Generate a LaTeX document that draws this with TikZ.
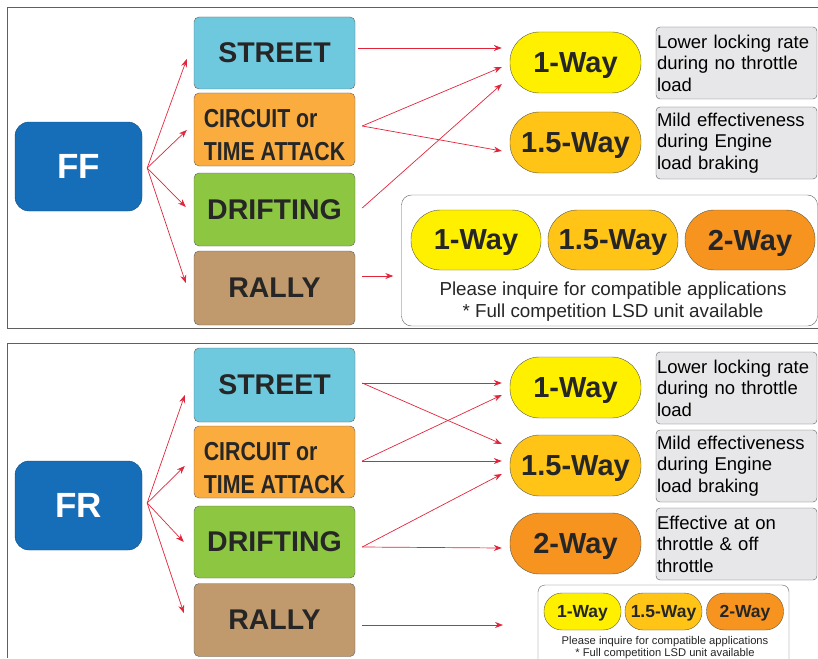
\documentclass[tikz,border=0pt]{standalone}
\usepackage{fontspec}
\setmainfont{Liberation Sans}
\usepackage{graphicx}
\usetikzlibrary{arrows.meta,positioning,calc}
\definecolor{ffblue}{RGB}{22,110,184}
\definecolor{streetc}{RGB}{110,201,222}
\definecolor{circuitc}{RGB}{250,172,62}
\definecolor{driftc}{RGB}{141,198,65}
\definecolor{rallyc}{RGB}{192,153,108}
\definecolor{onec}{RGB}{255,240,0}
\definecolor{onefivec}{RGB}{255,196,22}
\definecolor{twoc}{RGB}{247,148,32}
\definecolor{descc}{RGB}{231,231,233}
\definecolor{arrred}{RGB}{226,36,58}
\definecolor{edgec}{RGB}{95,95,95}

\tikzset{
  drive/.style={fill=ffblue, draw=ffblue!70!black, rounded corners=14pt,
    minimum width=127pt, minimum height=89pt, text=white, text depth=0pt,
    font=\fontsize{35}{35}\selectfont\bfseries},
  catbox/.style={draw=edgec, rounded corners=5pt, minimum width=161pt,
    inner sep=0pt, text depth=0pt, font=\fontsize{28.5}{28.5}\selectfont\bfseries, text=black!85},
  waypill/.style={draw=black!55!yellow!60!black, rounded corners=29.5pt,
    minimum width=131pt, minimum height=61pt, inner sep=0pt, text depth=0pt,
    font=\fontsize{29}{29}\selectfont\bfseries, text=black!85},
  smallpill/.style={draw=black!55!yellow!60!black, rounded corners=18pt,
    minimum width=77pt, minimum height=37pt, inner sep=0pt, text depth=0pt,
    font=\fontsize{17.5}{17.5}\selectfont\bfseries, text=black!85},
  descbox/.style={draw=edgec, fill=descc, rounded corners=4pt,
    minimum width=161pt, minimum height=72pt, text width=159pt, inner sep=1pt,
    align=left, font=\fontsize{18.5}{21.5}\selectfont},
  rarr/.style={arrred, line width=0.7pt, -{Stealth[length=8pt,width=6pt]}},
}

\begin{document}
\begin{tikzpicture}[x=1pt,y=-1pt]
  \useasboundingbox (0,0) rectangle (818,658);
  % panel frames
  \draw[edgec, line width=0.8pt] (818,7) -- (7,7) -- (7,328) -- (818,328);
  \draw[edgec, line width=0.8pt] (818,343) -- (7,343) -- (7,658);

  % ---- FF ----
  \node[drive] (ff) at (78.5,166.5) {FF};
  \node[catbox, fill=streetc, minimum height=72pt] (streetA) at (274.5,53) {STREET};
  \node[catbox, fill=circuitc, minimum height=73pt, align=left] (circA) at (274.5,129.5)
    {\raisebox{10pt}{\scalebox{0.82}[1]{\fontsize{26}{33}\selectfont\bfseries\begin{tabular}{@{}l@{}}CIRCUIT or\\TIME ATTACK\end{tabular}}}};
  \node[catbox, fill=driftc, minimum height=73pt] (driftA) at (274.5,209.5) {DRIFTING};
  \node[catbox, fill=rallyc, minimum height=74pt] (rallyA) at (274.5,288) {RALLY};

  \node[waypill, fill=onec] (oneA) at (575.5,62.5) {1-Way};
  \node[waypill, fill=onefivec] (onefiveA) at (575.5,142.5) {1.5-Way};
  \node[descbox] (lowA) at (736.5,63) {Lower locking rate\\during no throttle\\load};
  \node[descbox] (mildA) at (736.5,143) {Mild effectiveness\\during Engine\\load braking};

  \node[draw=edgec, fill=white, rounded corners=10pt, minimum width=416pt,
    minimum height=131pt] (allA) at (609.5,260.5) {};
  \node[waypill, fill=onec, minimum width=130pt, minimum height=60pt] (allAone) at (476,240) {1-Way};
  \node[waypill, fill=onefivec, minimum width=130pt, minimum height=60pt] (allAonefive) at (613,240) {1.5-Way};
  \node[waypill, fill=twoc, minimum width=130pt, minimum height=60pt] (allAtwo) at (750,240) {2-Way};
  \node[font=\fontsize{18.8}{22}\selectfont, align=center, text=black!85] (noteA) at (613,302)
    {Please inquire for compatible applications\\* Full competition LSD unit available};

  \draw[rarr] ([xshift=5,yshift=-1.5]ff.east) -- ([xshift=-7,yshift=-6]streetA.west);
  \draw[rarr] ([xshift=5,yshift=-1.5]ff.east) -- ([xshift=-7,yshift=-0.5]circA.west);
  \draw[rarr] ([xshift=5,yshift=-1.5]ff.east) -- ([xshift=-8,yshift=2.5]driftA.west);
  \draw[rarr] ([xshift=5,yshift=-1.5]ff.east) -- ([xshift=-8,yshift=5]rallyA.west);

  \draw[rarr] ([xshift=3,yshift=5]streetA.east) -- ([xshift=-8,yshift=14.5]oneA.west);
  \draw[rarr] ([xshift=7,yshift=3.5]circA.east) -- ([xshift=-8,yshift=-4.5]oneA.west);
  \draw[rarr] ([xshift=7,yshift=3.5]circA.east) -- ([xshift=-8,yshift=-8.5]onefiveA.west);
  \draw[rarr] ([xshift=7,yshift=1.5]driftA.east) -- ([xshift=-8,yshift=-21.5]oneA.west);
  \draw[rarr] ([xshift=7,yshift=12]rallyA.east) -- ([xshift=-8,yshift=-15.5]allA.west);

  % ---- FR ----
  \node[drive] (fr) at (78.5,505.5) {FR};
  \node[catbox, fill=streetc, minimum height=74pt] (streetB) at (274.5,385) {STREET};
  \node[catbox, fill=circuitc, minimum height=72pt, align=left] (circB) at (274.5,462)
    {\raisebox{10pt}{\scalebox{0.82}[1]{\fontsize{26}{33}\selectfont\bfseries\begin{tabular}{@{}l@{}}CIRCUIT or\\TIME ATTACK\end{tabular}}}};
  \node[catbox, fill=driftc, minimum height=72pt] (driftB) at (274.5,542) {DRIFTING};
  \node[catbox, fill=rallyc, minimum height=73pt] (rallyB) at (274.5,620) {RALLY};

  \node[waypill, fill=onec] (oneB) at (575.5,387.5) {1-Way};
  \node[waypill, fill=onefivec] (onefiveB) at (575.5,465.5) {1.5-Way};
  \node[waypill, fill=twoc] (twoB) at (575.5,543.5) {2-Way};
  \node[descbox] (lowB) at (736.5,388) {Lower locking rate\\during no throttle\\load};
  \node[descbox] (mildB) at (736.5,466) {Mild effectiveness\\during Engine\\load braking};
  \node[descbox] (effB) at (736.5,544) {Effective at on\\throttle \& off\\throttle};

  \node[draw=edgec, fill=white, rounded corners=7pt, minimum width=251pt,
    minimum height=83pt] (allB) at (663.5,626.5) {};
  \node[smallpill, fill=onec] (allBone) at (582.5,611.5) {1-Way};
  \node[smallpill, fill=onefivec] (allBonefive) at (663.5,611.5) {1.5-Way};
  \node[smallpill, fill=twoc] (allBtwo) at (745,611.5) {2-Way};
  \node[font=\fontsize{11.2}{11.8}\selectfont, align=center, text=black!85] (noteB) at (665,647.5)
    {Please inquire for compatible applications\\* Full competition LSD unit available};
  \coordinate (rallyend) at (503,625);

  \draw[rarr] ([xshift=5,yshift=2.5]fr.east) -- ([xshift=-9,yshift=-10]streetB.west);
  \draw[rarr] ([xshift=5,yshift=2.5]fr.east) -- ([xshift=-9,yshift=-4]circB.west);
  \draw[rarr] ([xshift=5,yshift=2.5]fr.east) -- ([xshift=-10,yshift=0]driftB.west);
  \draw[rarr] ([xshift=5,yshift=2.5]fr.east) -- ([xshift=-10,yshift=7]rallyB.west);

  \draw[rarr] ([xshift=7,yshift=2]streetB.east) -- ([xshift=-8,yshift=4.5]oneB.west);
  \draw[rarr] ([xshift=7,yshift=2]streetB.east) -- ([xshift=-8,yshift=21.5]onefiveB.west);
  \draw[rarr] ([xshift=7,yshift=1]circB.east) -- ([xshift=-8,yshift=-7.5]oneB.west);
  \draw[rarr] ([xshift=7,yshift=1]circB.east) -- ([xshift=-8,yshift=4.5]onefiveB.west);
  \draw[rarr] ([xshift=7,yshift=-5]driftB.east) -- ([xshift=-8,yshift=-8.5]onefiveB.west);
  \draw[rarr] ([xshift=7,yshift=-5]driftB.east) -- ([xshift=-8,yshift=-4.5]twoB.west);
  \draw[rarr] ([xshift=7,yshift=-5]rallyB.east) -- (rallyend);
\end{tikzpicture}
\end{document}
